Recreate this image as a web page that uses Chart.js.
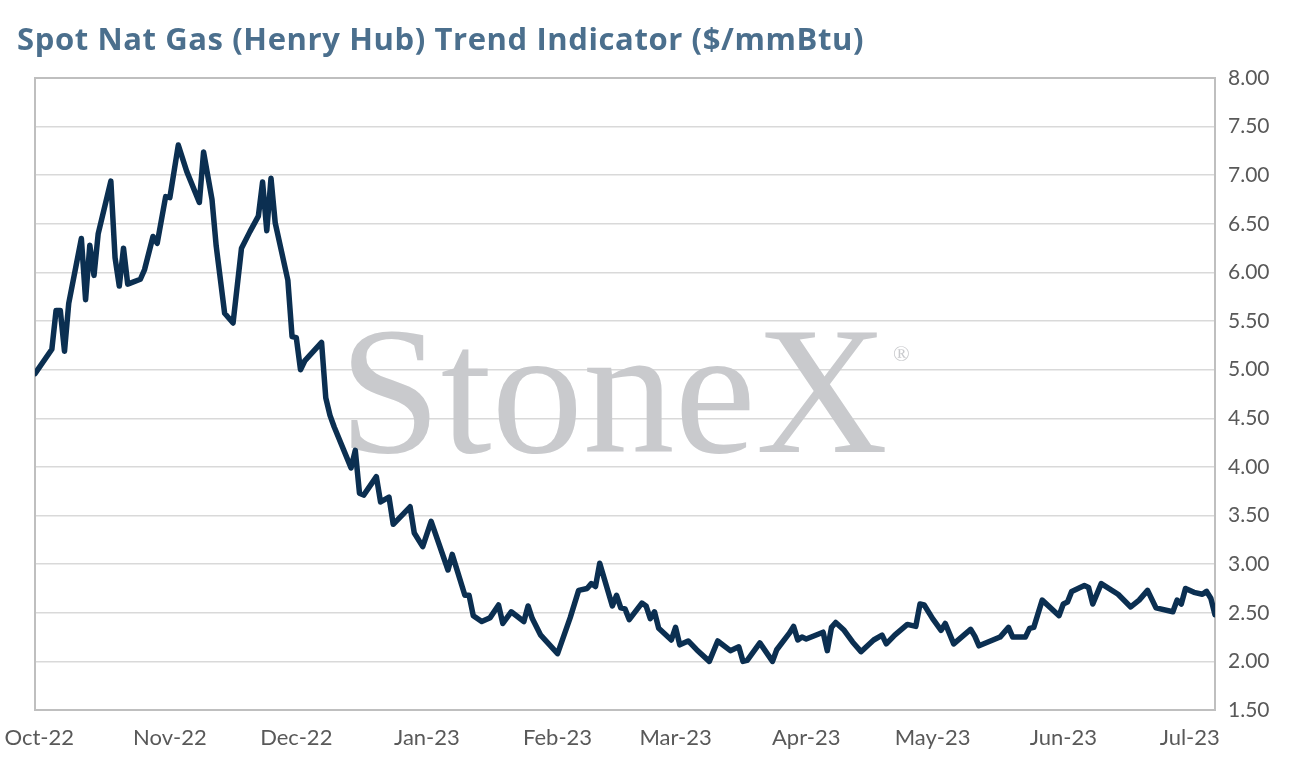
<!DOCTYPE html>
<html>
<head>
<meta charset="utf-8">
<script src="https://cdn.jsdelivr.net/npm/chart.js@4.4.1/dist/chart.umd.min.js"></script>
<style>
  html, body { margin: 0; padding: 0; background: #ffffff; }
  #wrap { position: relative; width: 1294px; height: 771px; }
  #title {
    position: absolute; left: 17px; top: 17px;
    font-family: "Open Sans", Lato, sans-serif; font-weight: 700;
    font-size: 31px; letter-spacing: 0.6px; color: #4b6f8d; white-space: nowrap;
  }
  canvas { position: absolute; left: 0; top: 0; }
</style>
</head>
<body>
<div id="wrap">
  <canvas id="canvas" width="1294" height="771"></canvas>
  <div id="title">Spot Nat Gas (Henry Hub) Trend Indicator ($/mmBtu)</div>
</div>
<script>
// day offsets from 1 Oct 2022
const dayOffsets = [
  -1, 3, 4, 5, 6, 7, 10, 11, 12, 13, 14, 17, 18, 19, 20, 21, 24, 25, 27, 28,
  30, 31, 33, 35, 38, 39, 41, 42, 44, 46, 48, 50, 52, 53, 54, 55, 56, 59, 60, 61,
  62, 63, 67, 68, 69, 70, 74, 75, 76, 77, 80, 81, 83, 84, 88, 89, 91, 93, 97, 98,
  101, 102, 103, 105, 107, 109, 110, 112, 115, 116, 117, 119, 123, 126, 128, 130, 131, 132, 133, 136,
  137, 138, 139, 140, 143, 144, 145, 146, 147, 150, 151, 152, 154, 156, 159, 161, 164, 166, 167, 168,
  171, 174, 175, 178, 179, 180, 181, 182, 186, 187, 188, 189, 191, 193, 195, 198, 200, 201, 203, 206,
  208, 209, 210, 212, 214, 215, 217, 221, 222, 223, 228, 230, 231, 234, 235, 236, 238, 242, 243, 244,
  245, 248, 249, 250, 252, 256, 259, 261, 263, 265, 269, 270, 271, 272, 274, 276, 277, 278, 279
];
const prices = [
  4.96, 5.21, 5.61, 5.61, 5.19, 5.68, 6.35, 5.72, 6.28, 5.97, 6.40, 6.94, 6.15, 5.86, 6.25, 5.88, 5.93, 6.03, 6.37, 6.30,
  6.78, 6.77, 7.31, 7.04, 6.72, 7.24, 6.75, 6.27, 5.58, 5.48, 6.25, 6.42, 6.58, 6.93, 6.43, 6.97, 6.51, 5.92, 5.34, 5.33,
  5.00, 5.09, 5.28, 4.71, 4.53, 4.41, 3.99, 4.17, 3.73, 3.71, 3.90, 3.64, 3.69, 3.41, 3.59, 3.32, 3.18, 3.44, 2.94, 3.10,
  2.68, 2.68, 2.47, 2.41, 2.45, 2.58, 2.39, 2.51, 2.41, 2.57, 2.44, 2.27, 2.08, 2.45, 2.73, 2.75, 2.80, 2.77, 3.01, 2.57,
  2.68, 2.55, 2.54, 2.43, 2.60, 2.57, 2.44, 2.51, 2.34, 2.22, 2.35, 2.17, 2.21, 2.12, 2.00, 2.21, 2.11, 2.15, 2.00, 2.01,
  2.19, 2.00, 2.12, 2.29, 2.36, 2.22, 2.25, 2.23, 2.30, 2.11, 2.35, 2.40, 2.32, 2.20, 2.10, 2.22, 2.27, 2.18, 2.27, 2.38,
  2.36, 2.59, 2.58, 2.44, 2.32, 2.39, 2.18, 2.33, 2.26, 2.16, 2.25, 2.35, 2.25, 2.25, 2.34, 2.35, 2.63, 2.47, 2.59, 2.61,
  2.72, 2.78, 2.76, 2.59, 2.80, 2.69, 2.56, 2.63, 2.73, 2.55, 2.51, 2.63, 2.59, 2.75, 2.71, 2.69, 2.72, 2.65, 2.48
];
const monthTicks = [0, 31, 61, 92, 123, 151, 182, 212, 243, 273];
const monthLabels = ["Oct-22", "Nov-22", "Dec-22", "Jan-23", "Feb-23", "Mar-23", "Apr-23", "May-23", "Jun-23", "Jul-23"];

const points = dayOffsets.map((d, i) => ({ x: d, y: prices[i] }));

const watermark = {
  id: "watermark",
  beforeDatasetsDraw(chart) {
    const ctx = chart.ctx;
    ctx.save();
    ctx.fillStyle = "#c9cacd";
    ctx.textBaseline = "alphabetic";
    ctx.font = "183px 'Liberation Serif', 'DejaVu Serif', serif";
    ctx.fillText("StoneX", 339, 452);
    ctx.font = "22px 'Liberation Serif', 'DejaVu Serif', serif";
    ctx.fillText("\u00AE", 893, 361);
    ctx.restore();
  }
};

const frame = {
  id: "frame",
  beforeDatasetsDraw(chart) {
    const a = chart.chartArea;
    const ctx = chart.ctx;
    ctx.save();
    ctx.strokeStyle = "#bfbfbf";
    ctx.lineWidth = 2;
    ctx.strokeRect(a.left, a.top, a.right - a.left, a.bottom - a.top);
    ctx.restore();
  }
};

new Chart(document.getElementById("canvas").getContext("2d"), {
  type: "line",
  data: {
    datasets: [{
      data: points,
      borderColor: "#0b2f51",
      borderWidth: 5.5,
      pointRadius: 0,
      tension: 0,
      borderJoinStyle: "round",
      borderCapStyle: "round"
    }]
  },
  options: {
    responsive: false,
    animation: false,
    layout: { padding: { top: 78, left: 35, right: 0, bottom: 0 } },
    plugins: { legend: { display: false }, tooltip: { enabled: false } },
    scales: {
      x: {
        type: "linear",
        min: -1,
        max: 279,
        grid: { display: false },
        border: { display: false },
        afterBuildTicks: (axis) => {
          axis.ticks = monthTicks.map((v) => ({ value: v }));
        },
        afterFit: (axis) => {
          axis.height = 61;
          axis.paddingLeft = 0;
          axis.paddingRight = 0;
        },
        ticks: {
          autoSkip: false,
          maxRotation: 0,
          padding: 7,
          color: "#595959",
          font: { family: "Lato", size: 22 },
          callback: (v) => monthLabels[monthTicks.indexOf(v)]
        }
      },
      y: {
        position: "right",
        min: 1.5,
        max: 8,
        grid: { color: "#d9d9d9", lineWidth: 1.5, drawTicks: false },
        border: { display: false },
        afterFit: (axis) => { axis.width = 79; },
        ticks: {
          stepSize: 0.5,
          padding: 13,
          color: "#595959",
          font: { family: "Lato", size: 21 },
          callback: (v) => v.toFixed(2)
        }
      }
    }
  },
  plugins: [watermark, frame]
});
</script>
</body>
</html>
